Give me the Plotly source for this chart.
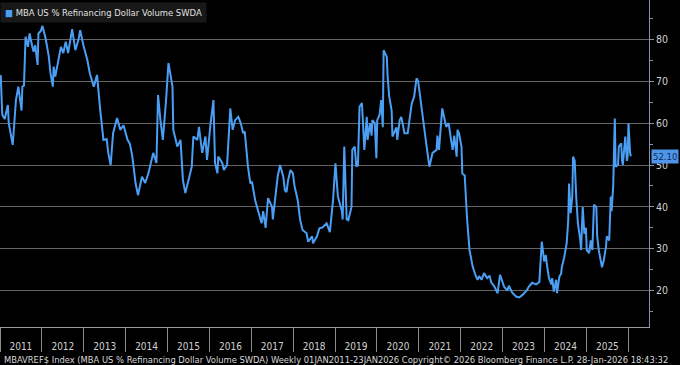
import pandas as pd
import plotly.graph_objects as go

# weeks since 2011-01-07 (weekly data, last = 2026-01-23)
week_idx = [0, 2, 5, 9, 10, 14, 15, 19, 22, 26, 27, 29, 31, 34, 36, 39, 41, 43, 46, 47,
            50, 52, 56, 60, 62, 65, 66, 68, 72, 75, 78, 81, 84, 89, 93, 97, 99, 103, 108, 111,
            116, 120, 124, 128, 132, 134, 137, 140, 145, 149, 153, 158, 161, 164, 168, 171, 176, 180, 184, 190,
            194, 196, 199, 202, 206, 209, 214, 215, 220, 224, 227, 230, 234, 238, 240, 245, 247, 251, 255, 257,
            261, 265, 267, 270, 271, 276, 278, 282, 286, 289, 292, 296, 299, 302, 304, 307, 308, 311, 313, 317,
            320, 325, 327, 330, 333, 338, 339, 342, 345, 348, 352, 354, 356, 358, 361, 364, 366, 370, 373, 376,
            381, 383, 388, 389, 394, 397, 401, 406, 410, 414, 417, 420, 425, 426, 428, 431, 433, 437, 438, 441,
            443, 445, 447, 450, 453, 456, 457, 460, 462, 463, 466, 468, 469, 472, 474, 476, 477, 481, 482, 484,
            487, 488, 493, 494, 497, 499, 501, 503, 507, 512, 515, 518, 520, 523, 525, 530, 534, 538, 543, 544,
            546, 549, 550, 555, 558, 561, 563, 565, 568, 569, 571, 574, 575, 578, 580, 581, 584, 588, 592, 594,
            596, 599, 602, 605, 606, 609, 611, 615, 619, 622, 625, 627, 631, 633, 637, 642, 646, 650, 655, 658,
            662, 667, 671, 673, 674, 677, 679, 681, 683, 686, 687, 689, 692, 693, 696, 698, 699, 702, 704, 705,
            707, 708, 710, 712, 713, 715, 717, 719, 722, 723, 725, 727, 729, 730, 733, 735, 737, 739, 742, 743,
            745, 748, 749, 751, 754, 755, 758, 760, 761, 763, 765, 766, 769, 770, 773, 774, 775, 778, 780, 781,
            782, 784, 785]

refi_share = [71.5, 62.0, 61.0, 64.3, 60.0, 55.5, 54.8, 65.5, 68.7, 63.0, 68.7, 69.0, 80.6, 78.2, 81.4, 78.6, 77.0, 78.6, 73.9, 81.4,
              82.0, 83.2, 80.2, 75.8, 72.0, 68.7, 73.5, 71.1, 75.0, 78.2, 76.7, 79.4, 76.7, 82.4, 77.4, 80.0, 82.2, 78.6, 75.0, 71.9,
              68.7, 71.5, 63.1, 56.0, 56.2, 52.9, 50.0, 57.6, 61.2, 58.4, 59.5, 56.0, 55.0, 52.0, 45.7, 42.8, 47.2, 45.7, 48.0, 52.9,
              50.5, 66.7, 60.7, 56.0, 65.5, 74.3, 68.7, 58.4, 54.4, 56.0, 46.4, 43.3, 46.4, 49.6, 56.8, 56.0, 59.1, 52.9, 56.8, 51.2,
              59.1, 65.5, 50.5, 48.0, 52.0, 50.5, 48.8, 50.0, 63.5, 58.4, 60.7, 61.5, 60.0, 57.6, 58.0, 52.0, 49.6, 45.6, 46.0, 41.6,
              39.7, 36.1, 39.0, 35.0, 42.1, 40.0, 37.0, 42.5, 47.2, 50.0, 47.2, 44.0, 43.5, 46.4, 48.8, 48.0, 45.0, 41.6, 36.9, 34.5,
              33.7, 31.7, 33.0, 31.3, 33.0, 34.9, 35.1, 36.1, 34.0, 41.6, 50.4, 42.5, 39.0, 37.0, 54.4, 37.0, 36.8, 40.0, 53.6, 54.4,
              49.6, 50.0, 63.9, 64.8, 53.6, 61.5, 56.0, 60.0, 57.0, 60.7, 60.0, 51.6, 60.7, 62.0, 65.5, 59.0, 77.4, 75.8, 71.1, 66.3,
              63.0, 56.8, 59.0, 56.0, 60.7, 61.5, 59.0, 57.6, 57.6, 64.7, 66.3, 70.7, 70.0, 65.5, 61.5, 55.2, 49.6, 52.9, 53.6, 57.0,
              53.6, 63.1, 63.5, 59.1, 60.0, 56.0, 53.6, 57.0, 52.0, 58.4, 57.5, 54.4, 48.0, 47.5, 40.0, 37.0, 29.7, 25.7, 23.4, 22.6,
              23.5, 22.6, 24.2, 23.4, 23.0, 23.6, 22.0, 21.0, 19.4, 23.8, 22.0, 21.0, 20.0, 21.2, 19.6, 18.6, 18.4, 19.0, 20.0, 21.0,
              21.9, 21.5, 22.1, 29.7, 31.7, 27.0, 28.5, 25.4, 23.0, 21.5, 23.0, 19.8, 22.6, 19.4, 23.4, 24.0, 25.6, 28.0, 29.7, 31.3,
              36.9, 45.6, 38.5, 42.5, 52.0, 51.0, 42.0, 36.1, 32.0, 29.7, 40.0, 33.6, 35.0, 29.7, 29.0, 32.0, 29.7, 40.5, 40.0, 33.0,
              29.7, 27.0, 25.6, 27.0, 30.5, 33.0, 32.0, 42.5, 39.0, 45.0, 61.1, 49.6, 50.0, 54.4, 55.2, 51.0, 50.0, 56.8, 51.0, 52.0,
              60.0, 52.9, 52.1]

years = list(range(2011, 2026))
y_ticks = [20, 30, 40, 50, 60, 70, 80]

series_name = "MBA US % Refinancing Dollar Volume SWDA"
footer = ("MBAVREF$ Index (MBA US % Refinancing Dollar Volume SWDA) Weekly 01JAN2011-23JAN2026 "
          "Copyright\u00a9 2026 Bloomberg Finance L.P. 28-Jan-2026 18:43:32")

dates = pd.Timestamp("2011-01-07") + pd.to_timedelta([7 * w for w in week_idx], unit="D")

LINE = "#4a9ff5"
FAM = "DejaVu Sans Condensed, DejaVu Sans, sans-serif"
def fnt(size, color="#d8d8d8"):
    return dict(family=FAM, size=size, color=color)

fig = go.Figure()
fig.add_trace(go.Scatter(x=dates, y=refi_share, mode="lines",
                         line=dict(color=LINE, width=2), showlegend=False,
                         hoverinfo="x+y"))

fig.update_layout(
    width=680, height=365,
    margin=dict(l=0, r=31, t=0, b=38, pad=0),
    paper_bgcolor="#000000", plot_bgcolor="#000000",
    font=fnt(10),
    showlegend=False,
    xaxis=dict(
        range=["2011-01-01", "2026-06-30"],
        tickvals=[pd.Timestamp(f"{y}-07-02") for y in years],
        ticktext=[str(y) for y in years],
        ticks="", showgrid=False, zeroline=False, automargin=False,
        showline=True, linecolor="#9a9a9a", linewidth=1,
        tickfont=fnt(10, "#d0d0d0"),
        ticklabelstandoff=10,
        minor=dict(ticks="outside", ticklen=24, tickcolor="#8a8a8a", tickwidth=1,
                   dtick="M12", tick0="2011-01-01", showgrid=False),
    ),
    yaxis=dict(
        side="right", range=[11.34, 89.38], automargin=False,
        tickvals=y_ticks, ticktext=[str(v) for v in y_ticks],
        showgrid=True, gridcolor="#646464", gridwidth=1, zeroline=False,
        showline=True, linecolor="#7f93ad", linewidth=1,
        ticks="outside", ticklen=4, tickcolor="#7f93ad",
        tickfont=fnt(10.5, "#d0d0d0"),
        minor=dict(ticks="outside", ticklen=3, tickcolor="#7f93ad", dtick=5, tick0=0,
                   showgrid=False),
    ),
    annotations=[
        # legend box
        dict(x=0, xref="paper", y=1, yref="paper", xanchor="left", yanchor="top",
             yshift=-2, showarrow=False, bgcolor="#181818", borderpad=4,
             text=f"<span style='color:{LINE}'>\u25A0</span> {series_name}",
             font=fnt(9.4, "#e0e0e0")),
        # last value tag
        dict(x=1, xref="paper", y=refi_share[-1], yref="y", xanchor="left", yanchor="middle",
             xshift=2, text=f"{refi_share[-1]:.2f}", showarrow=False,
             bgcolor="#4f96ea", borderpad=1,
             font=fnt(9.5, "#0d2a55")),
        # source footer
        dict(x=0.003, xref="paper", y=-32 / 327, yref="paper", xanchor="left", yanchor="middle",
             text=footer, showarrow=False, font=fnt(9.3, "#d8d8d8")),
    ],
)

fig.write_html("out.html", config={"displayModeBar": False},
               post_script="document.body.style.margin='0';document.body.style.padding='0';")
